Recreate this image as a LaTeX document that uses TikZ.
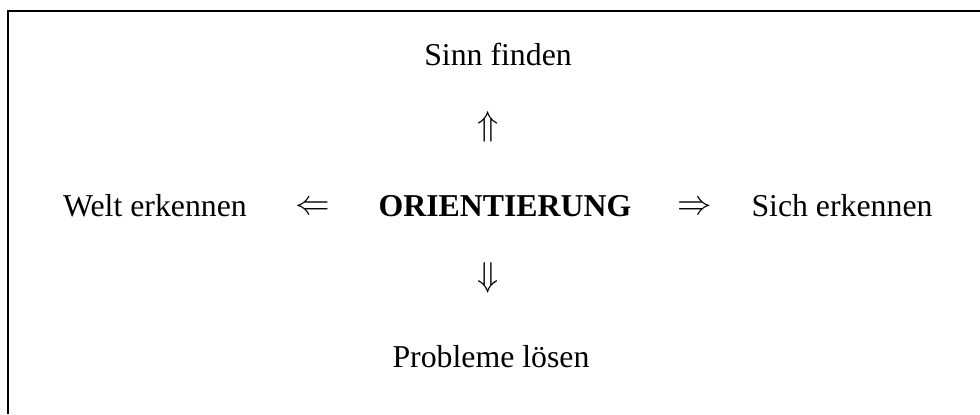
\documentclass[tikz,border=0pt]{standalone}
\usepackage{fontspec}
\setmainfont{Liberation Serif}
\usetikzlibrary{positioning}

\begin{document}
\begin{tikzpicture}[x=0.5pt,y=-0.5pt,
  lbl/.style={font=\fontsize{15.9}{19}\selectfont,inner sep=0pt,anchor=base},
  pfeil/.style={font=\fontsize{15.9}{19}\selectfont,inner sep=0pt}]
  \useasboundingbox (0,0) rectangle (980,414);
  % Rahmen (nur oben und links sichtbar)
  \draw[line width=1pt] (8,414) -- (8,11) -- (980,11);
  % Begriffe
  \node[lbl] (sinn) at (498,65) {Sinn finden};
  \node[lbl] (welt) at (155,216) {Welt erkennen};
  \node[lbl] (orient) at (505,216) {\textbf{ORIENTIERUNG}};
  \node[lbl] (sich) at (842,216) {Sich erkennen};
  \node[lbl] (probl) at (491,367) {Probleme lösen};
  % Pfeile
  \node[pfeil] (auf) at (488,127) {$\Uparrow$};
  \node[pfeil] (ab) at (488,278) {$\Downarrow$};
  \node[pfeil] (links) at (313,208) {$\Leftarrow$};
  \node[pfeil] (rechts) at (695,208) {$\Rightarrow$};
\end{tikzpicture}
\end{document}
